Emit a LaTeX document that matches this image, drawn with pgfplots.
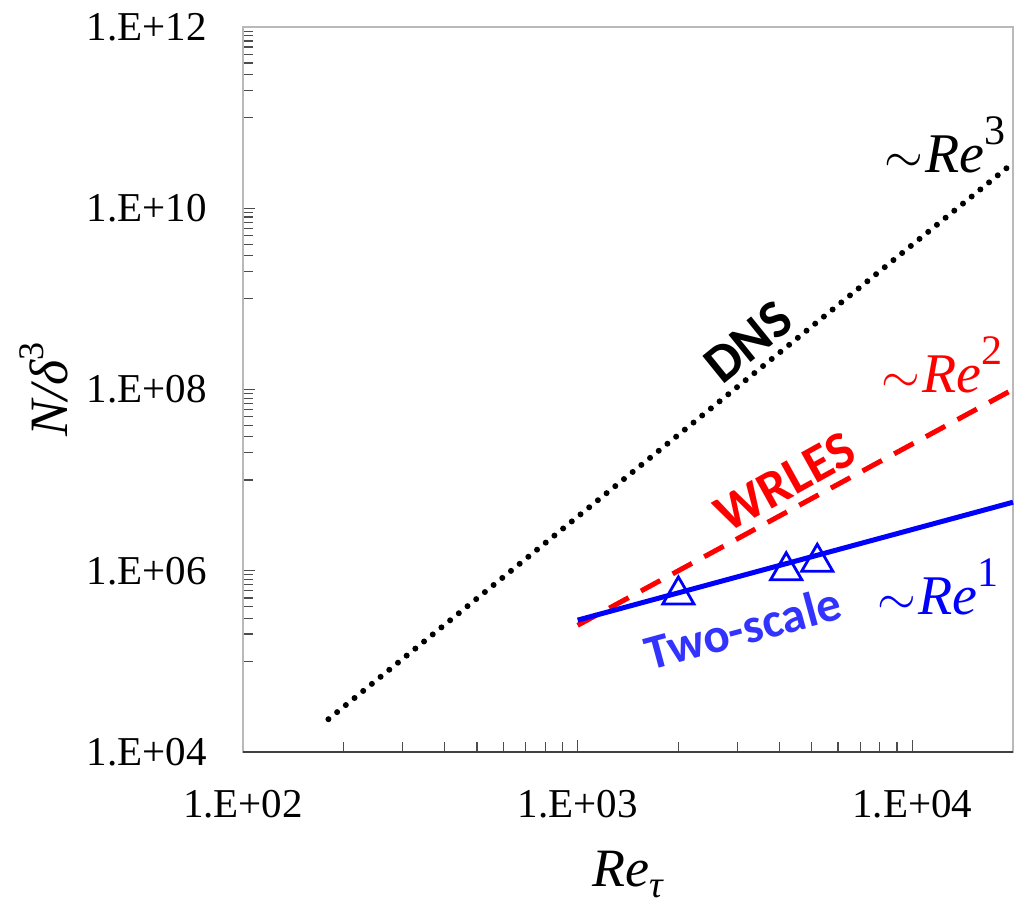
\documentclass[border=0pt]{standalone}
\usepackage{pgfplots}
\pgfplotsset{compat=1.18}
\usepackage{fontspec}
\setmainfont{Liberation Serif}
\newfontfamily\calibri{Carlito}
\definecolor{tsblue}{rgb}{0.2,0.2,1}
\begin{document}
\begin{tikzpicture}
\begin{axis}[
  scale only axis,
  width=385pt, height=362.5pt,
  xmode=log, ymode=log,
  xmin=100, xmax=20000, ymin=1e4, ymax=1e12,
  clip=false,
  axis line style={draw=gray!55, line width=0.6pt},
  tick align=inside,
  xtick pos=left, ytick pos=left,
  xtick={100,1000,10000},
  xticklabels={\textrm{1.E+02},\textrm{1.E+03},\textrm{1.E+04}},
  minor xtick={200,300,400,500,600,700,800,900,2000,3000,4000,5000,6000,7000,8000,9000},
  ytick={1e4,1e6,1e8,1e10,1e12},
  yticklabels={\textrm{1.E+04},\textrm{1.E+06},\textrm{1.E+08},\textrm{1.E+10},\textrm{1.E+12}},
  minor ytick={1e5,2e5,3e5,4e5,5e5,6e5,7e5,8e5,9e5,1e7,2e7,3e7,4e7,5e7,6e7,7e7,8e7,9e7,1e9,2e9,3e9,4e9,5e9,6e9,7e9,8e9,9e9,1e11,2e11,3e11,4e11,5e11,6e11,7e11,8e11,9e11},
  major tick length=6pt, minor tick length=5pt,
  every tick/.style={draw=black!70, line width=0.6pt},
  xticklabel style={font=\fontsize{20.5}{24}\selectfont, inner sep=0pt, anchor=north, yshift=-19pt},
  yticklabel style={font=\fontsize{20.5}{24}\selectfont, inner sep=0pt, anchor=east, xshift=-18pt},
  xlabel={\itshape Re\raisebox{-0.22em}{\fontsize{19}{20}\selectfont τ}},
  xlabel style={font=\fontsize{27}{30}\selectfont, at={(rel axis cs:0.5,-0.1850)}, anchor=base, inner sep=0pt},
  ylabel={{\itshape N/δ}\raisebox{0.45em}{\fontsize{18}{20}\selectfont 3}},
  ylabel style={font=\fontsize{27}{30}\selectfont, at={(rel axis cs:-0.2273,0.5)}, anchor=base, rotate=0, inner sep=0pt},
]
% DNS ~ Re^3
\addplot[black, line width=3pt, line cap=round, dash pattern=on 0pt off 5.6pt] coordinates {(180,2.3e4) (20000,3.16e10)};
% WRLES ~ Re^2
\addplot[red, line width=2.5pt, dash pattern=on 11pt off 7pt] coordinates {(1000,2.5e5) (20000,1e8)};
% Two-scale ~ Re^1
\addplot[blue, line width=2.5pt] coordinates {(1000,2.85e5) (20000,5.7e6)};
\addplot[blue, only marks, mark=triangle, mark size=9pt, mark options={line width=1.4pt, fill=none}] coordinates {(2000,5.4e5) (4200,1.0e6) (5200,1.24e6)};
% bottom axis line darker
\draw[black!75, line width=1pt] (rel axis cs:0,0) -- (rel axis cs:1,0);
% annotations
\node[font=\fontsize{28}{30}\selectfont, anchor=center] at (rel axis cs:0.9117,0.8372) {$\sim$\kern1pt{\itshape Re}\raisebox{0.5em}{\fontsize{21}{22}\selectfont 3}};
\node[font=\fontsize{28}{30}\selectfont, text=red, anchor=center] at (rel axis cs:0.9078,0.5338) {$\sim$\kern1pt{\itshape Re}\raisebox{0.5em}{\fontsize{21}{22}\selectfont 2}};
\node[font=\fontsize{28}{30}\selectfont, text=blue, anchor=center] at (rel axis cs:0.9026,0.2276) {$\sim$\kern1pt{\itshape Re}\raisebox{0.5em}{\fontsize{21}{22}\selectfont 1}};
\node[font=\calibri\bfseries\fontsize{27}{30}\selectfont, rotate=39, anchor=center] at (rel axis cs:0.6558,0.5655) {DNS};
\node[font=\calibri\bfseries\fontsize{26.5}{30}\selectfont, text=red, rotate=29, anchor=center] at (rel axis cs:0.7039,0.3724) {WRLES};
\node[font=\calibri\bfseries\fontsize{24.5}{28}\selectfont, text=tsblue, rotate=15.2, anchor=center] at (rel axis cs:0.6494,0.1710) {Two-scale};
\coordinate (bbl) at (rel axis cs:-0.3156,-0.2110);
\coordinate (btr) at (rel axis cs:1.0013,1.0372);
\end{axis}
\pgfresetboundingbox
\path[use as bounding box] (bbl) rectangle (btr);
\end{tikzpicture}
\end{document}
